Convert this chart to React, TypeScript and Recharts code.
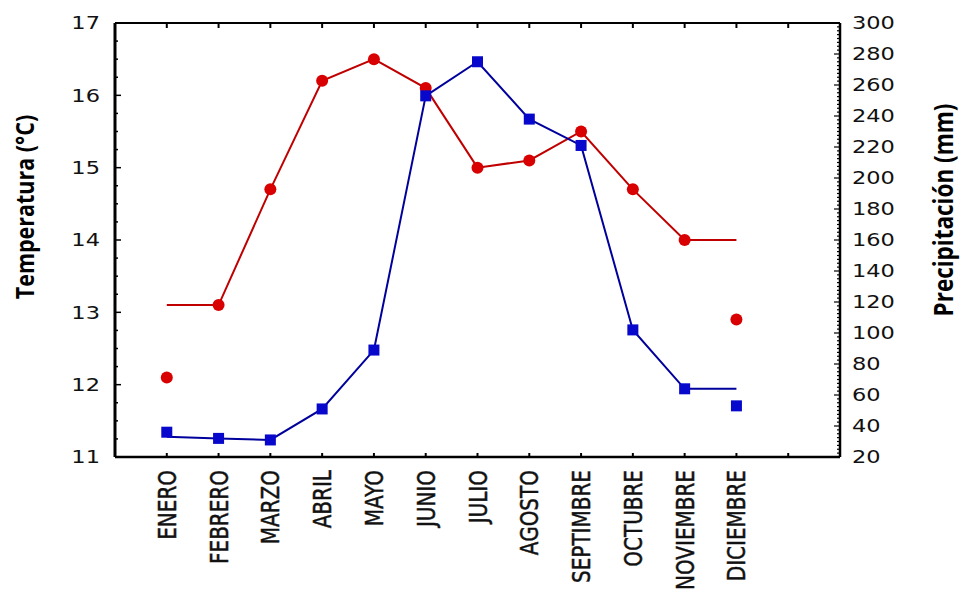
import React from 'react'
import { ComposedChart, Line, XAxis, YAxis } from 'recharts'

const months = [
  'ENERO', 'FEBRERO', 'MARZO', 'ABRIL', 'MAYO', 'JUNIO',
  'JULIO', 'AGOSTO', 'SEPTIMBRE', 'OCTUBRE', 'NOVIEMBRE', 'DICIEMBRE',
]

// observed points
const tempPoints = [12.1, 13.1, 14.7, 16.2, 16.5, 16.1, 15.0, 15.1, 15.5, 14.7, 14.0, 12.9]
const precipPoints = [36, 32, 31, 51, 89, 253, 275, 238, 221, 102, 64, 53]

// smoothed curves drawn through them
const tempCurve = [13.1, 13.1, 14.7, 16.2, 16.5, 16.1, 15.0, 15.1, 15.5, 14.7, 14.0, 14.0]
const precipCurve = [33, 32, 31, 51, 89, 253, 275, 238, 221, 102, 64, 64]

const tempTicks = [11, 12, 13, 14, 15, 16, 17]
const precipTicks = [20, 40, 60, 80, 100, 120, 140, 160, 180, 200, 220, 240, 260, 280, 300]
const xTicks = [0, 1, 2, 3, 4, 5, 6, 7, 8, 9, 10, 11, 12]

const tempMinor: number[] = []
for (let v = tempTicks[0]; v <= tempTicks[tempTicks.length - 1] + 1e-9; v += 0.25) tempMinor.push(+v.toFixed(2))
const precipMinor: number[] = []
for (let v = precipTicks[0]; v <= precipTicks[precipTicks.length - 1] + 1e-9; v += 2.5) precipMinor.push(+v.toFixed(2))

const data = months.map((m, i) => ({
  x: i,
  tempPt: tempPoints[i],
  precipPt: precipPoints[i],
  tempLine: tempCurve[i],
  precipLine: precipCurve[i],
}))

const FONT = "'DejaVu Sans', Verdana, sans-serif"
const SX = 1.25 // the source image is stretched horizontally

const BottomTick = (props: any) => {
  const { x, y, payload } = props
  const label = months[payload.value] ?? ''
  return (
    <g>
      <line x1={x} x2={x} y1={y} y2={y - 4} stroke="#000" strokeWidth={2} />
      {label && (
        <text
          transform={`translate(${x},${y + 13}) scale(${SX},1) rotate(-90)`}
          textAnchor="end"
          dy="0.36em"
          fontFamily={FONT}
          fontSize={20}
          fill="#111"
          stroke="#111"
          strokeWidth={0.4}
        >
          {label}
        </text>
      )}
    </g>
  )
}

const TopTick = (props: any) => {
  const { x, y } = props
  return <line x1={x} x2={x} y1={y} y2={y + 5} stroke="#000" strokeWidth={2} />
}

const LeftTick = (props: any) => {
  const { x, y, payload } = props
  const major = tempTicks.includes(payload.value)
  return (
    <g>
      <line x1={x} x2={x + (major ? 6 : 3)} y1={y} y2={y} stroke="#000" strokeWidth={1.5} />
      {major && (
        <text
          transform={`translate(${x - 15},${y}) scale(${SX},1)`}
          textAnchor="end"
          dy="0.36em"
          fontFamily={FONT}
          fontSize={18}
          fill="#111"
        >
          {payload.value}
        </text>
      )}
    </g>
  )
}

const RightTick = (props: any) => {
  const { x, y, payload } = props
  const major = precipTicks.includes(payload.value)
  return (
    <g>
      <line x1={x} x2={x - (major ? 6 : 3)} y1={y} y2={y} stroke="#000" strokeWidth={1.2} />
      {major && (
        <text
          transform={`translate(${x + 12},${y}) scale(${SX},1)`}
          textAnchor="start"
          dy="0.36em"
          fontFamily={FONT}
          fontSize={18}
          fill="#111"
        >
          {payload.value}
        </text>
      )}
    </g>
  )
}

const RedDot = (props: any) => {
  const { cx, cy } = props
  if (cx == null || cy == null) return null
  return <circle cx={cx} cy={cy} r={6} fill="#D80000" />
}

const BlueSquare = (props: any) => {
  const { cx, cy } = props
  if (cx == null || cy == null) return null
  return <rect x={cx - 5.5} y={cy - 5.5} width={11} height={11} fill="#0808CC" />
}

const AxisTitle = ({ text, x, y, size }: { text: string; x: number; y: number; size: number }) => (
  <text
    transform={`translate(${x},${y}) scale(1.15,1) rotate(-90)`}
    textAnchor="middle"
    dy="0.36em"
    fontFamily="'Open Sans', sans-serif"
    fontWeight={700}
    fontSize={size}
    fill="#000"
  >
    {text}
  </text>
)

export default function App() {
  return (
    <div style={{ position: 'absolute', left: 0, top: 0, background: '#fff' }}>
      <ComposedChart
        width={960}
        height={597}
        data={data}
        margin={{ top: 0, right: 0, bottom: 0, left: 0 }}
      >
        <XAxis
          xAxisId="b"
          dataKey="x"
          type="number"
          domain={[-1, 13]}
          ticks={xTicks}
          interval={0}
          height={140}
          tickSize={0}
          tickMargin={0}
          tickLine={false}
          tick={<BottomTick />}
          axisLine={{ stroke: '#000', strokeWidth: 2.5 }}
        />
        <XAxis
          xAxisId="t"
          orientation="top"
          dataKey="x"
          type="number"
          domain={[-1, 13]}
          ticks={xTicks}
          interval={0}
          height={23}
          tickSize={0}
          tickMargin={0}
          tickLine={false}
          tick={<TopTick />}
          axisLine={{ stroke: '#000', strokeWidth: 2 }}
        />
        <YAxis
          yAxisId="l"
          domain={[11, 17]}
          ticks={tempMinor}
          interval={0}
          width={115}
          tickSize={0}
          tickMargin={0}
          tickLine={false}
          tick={<LeftTick />}
          axisLine={{ stroke: '#000', strokeWidth: 3 }}
          label={(p: any) => (
            <AxisTitle text="Temperatura (°C)" size={21.5} x={25} y={p.viewBox.y + p.viewBox.height / 2 - 33} />
          )}
        />
        <YAxis
          yAxisId="r"
          orientation="right"
          domain={[20, 300]}
          ticks={precipMinor}
          interval={0}
          width={120}
          tickSize={0}
          tickMargin={0}
          tickLine={false}
          tick={<RightTick />}
          axisLine={{ stroke: '#000', strokeWidth: 2.5 }}
          label={(p: any) => (
            <AxisTitle text="Precipitación (mm)" size={22.5} x={944} y={p.viewBox.y + p.viewBox.height / 2 - 30} />
          )}
        />
        <Line
          xAxisId="t"
          yAxisId="l"
          dataKey="tempLine"
          stroke="none"
          dot={false}
          isAnimationActive={false}
        />
        <Line
          xAxisId="b"
          yAxisId="l"
          type="linear"
          dataKey="tempLine"
          stroke="#C00000"
          strokeWidth={2}
          dot={false}
          isAnimationActive={false}
        />
        <Line
          xAxisId="b"
          yAxisId="l"
          dataKey="tempPt"
          stroke="none"
          dot={<RedDot />}
          activeDot={false}
          isAnimationActive={false}
        />
        <Line
          xAxisId="b"
          yAxisId="r"
          type="linear"
          dataKey="precipLine"
          stroke="#00009C"
          strokeWidth={2}
          dot={false}
          isAnimationActive={false}
        />
        <Line
          xAxisId="b"
          yAxisId="r"
          dataKey="precipPt"
          stroke="none"
          dot={<BlueSquare />}
          activeDot={false}
          isAnimationActive={false}
        />
      </ComposedChart>
    </div>
  )
}
